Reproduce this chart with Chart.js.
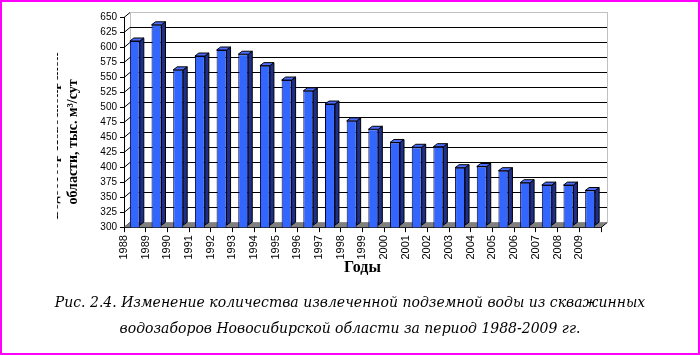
<!DOCTYPE html>
<html>
<head>
<meta charset="utf-8">
<script src="https://cdn.jsdelivr.net/npm/chart.js@4"></script>
<style>
  html, body { margin: 0; padding: 0; background: #fff; }
  #wrap { position: relative; width: 700px; height: 355px; }
  #frame { position: absolute; left: 0; top: 0; width: 700px; height: 355px; box-sizing: border-box; border: 2px solid #ff00ff; pointer-events: none; }
</style>
</head>
<body>
<div id="wrap">
  <canvas id="water_chart" width="700" height="355"></canvas>
  <div id="frame"></div>
</div>
<script>
const years = ['1988', '1989', '1990', '1991', '1992', '1993', '1994', '1995', '1996', '1997', '1998',
  '1999', '2000', '2001', '2002', '2003', '2004', '2005', '2006', '2007', '2008', '2009'];
const water_volume = [610, 637, 562, 585, 595, 588, 569, 545, 527, 505, 477,
  463, 441, 433, 434, 399, 401, 394, 374, 370, 370, 361];
const y_min = 300;
const y_max = 650;
const y_step = 25;

const y_title = ['Водоотбор Новосибирской', 'области, тыс. м³/сут'];
const x_title = 'Годы';
const caption = [
  'Рис. 2.4. Изменение количества извлеченной подземной воды из скважинных',
  'водозаборов Новосибирской области за период 1988-2009 гг.'
];

// fake excel 3d look: back wall, floor, bar sides
const excel3d = {
  id: 'excel3d',
  beforeDatasetsDraw(chart) {
    const ctx = chart.ctx;
    const a = chart.chartArea;
    const y = chart.scales.y;
    const dx = 6, dy = 5;
    ctx.save();
    ctx.lineWidth = 1;
    // back wall
    ctx.strokeStyle = '#c0c0c0';
    ctx.strokeRect(a.left + dx + 0.5, a.top - dy + 0.5, a.right - a.left, a.bottom - a.top);
    // grid lines on the wall
    for (let v = y_min; v <= y_max; v += y_step) {
      const py = Math.round(y.getPixelForValue(v)) + 0.5;
      ctx.strokeStyle = '#000';
      ctx.beginPath();
      ctx.moveTo(a.left, py);
      ctx.lineTo(a.left + dx, py - dy);
      ctx.stroke();
      if (v > y_min && v < y_max) {
        ctx.beginPath();
        ctx.moveTo(a.left + dx, py - dy);
        ctx.lineTo(a.right + dx, py - dy);
        ctx.stroke();
      }
    }
    // floor
    ctx.fillStyle = '#808080';
    ctx.beginPath();
    ctx.moveTo(a.left, a.bottom);
    ctx.lineTo(a.right, a.bottom);
    ctx.lineTo(a.right + dx, a.bottom - dy);
    ctx.lineTo(a.left + dx, a.bottom - dy);
    ctx.closePath();
    ctx.fill();
    ctx.strokeStyle = '#000';
    ctx.beginPath();
    ctx.moveTo(a.right, a.bottom + 0.5);
    ctx.lineTo(a.right + dx, a.bottom - dy + 0.5);
    ctx.stroke();
    ctx.restore();
  },
  afterDatasetsDraw(chart) {
    const ctx = chart.ctx;
    const a = chart.chartArea;
    const d = 4, d2 = 3;
    ctx.save();
    ctx.lineWidth = 1;
    ctx.strokeStyle = '#000';
    chart.getDatasetMeta(0).data.forEach(bar => {
      const xl = bar.x - bar.width / 2;
      const xr = bar.x + bar.width / 2;
      const base = Math.min(bar.base, a.bottom - 2);
      ctx.fillStyle = '#1d2f8a';
      ctx.beginPath();
      ctx.moveTo(xr, bar.y);
      ctx.lineTo(xr + d, bar.y - d2);
      ctx.lineTo(xr + d, base - d2);
      ctx.lineTo(xr, base);
      ctx.closePath();
      ctx.fill();
      ctx.stroke();
      ctx.fillStyle = '#4d6dff';
      ctx.beginPath();
      ctx.moveTo(xl, bar.y);
      ctx.lineTo(xl + d, bar.y - d2);
      ctx.lineTo(xr + d, bar.y - d2);
      ctx.lineTo(xr, bar.y);
      ctx.closePath();
      ctx.fill();
      ctx.stroke();
    });
    ctx.restore();
  },
  afterDraw(chart) {
    // y title, first line is cut off like in the scan
    const ctx = chart.ctx;
    const cy = 142;
    ctx.save();
    ctx.fillStyle = '#000';
    ctx.font = 'bold 14px "Liberation Serif"';
    ctx.textAlign = 'center';
    ctx.textBaseline = 'middle';
    ctx.save();
    ctx.beginPath();
    ctx.rect(57, 0, 100, 355);
    ctx.clip();
    ctx.translate(54, cy - 6);
    ctx.rotate(-Math.PI / 2);
    ctx.fillText(y_title[0], 0, 0);
    ctx.restore();
    ctx.translate(73, cy);
    ctx.rotate(-Math.PI / 2);
    ctx.fillText(y_title[1], 0, 0);
    ctx.restore();
  }
};

function drawChart() {
  let ctx = document.getElementById('water_chart').getContext('2d');
  let water_chart = new Chart(ctx, {
    type: 'bar',
    data: {
      labels: years,
      datasets: [{
        data: water_volume,
        backgroundColor: '#3366ff',
        borderColor: '#000033',
        borderWidth: 1,
        barPercentage: 0.92,
        categoryPercentage: 0.5
      }]
    },
    options: {
      responsive: false,
      animation: false,
      layout: {
        padding: { left: 0, right: 0, top: 17, bottom: 8 }
      },
      scales: {
        y: {
          min: y_min,
          max: y_max,
          afterFit(scale) { scale.width = 124; },
          ticks: {
            stepSize: y_step,
            autoSkip: false,
            color: '#000',
            padding: 3,
            font: { family: 'Liberation Sans', size: 10 }
          },
          grid: { drawOnChartArea: false, color: '#000', tickLength: 4 },
          border: { color: '#000' }
        },
        // empty right axis, only keeps the space on the right
        yr: {
          position: 'right',
          min: y_min,
          max: y_max,
          afterFit(scale) { scale.width = 99; },
          ticks: { display: false },
          grid: { display: false, drawTicks: false },
          border: { display: false }
        },
        x: {
          ticks: {
            color: '#000',
            minRotation: 90,
            maxRotation: 90,
            autoSkip: false,
            labelOffset: -11,
            padding: 3,
            font: { family: 'Liberation Sans', size: 11 }
          },
          grid: { drawOnChartArea: false, offset: true, color: '#000', tickLength: 5 },
          border: { color: '#000' },
          title: {
            display: true,
            text: x_title,
            color: '#000',
            padding: { top: -4, bottom: 0 },
            font: { family: 'Liberation Serif', size: 16, weight: 'bold' }
          }
        }
      },
      plugins: {
        legend: { display: false },
        tooltip: { enabled: false },
        title: {
          display: true,
          position: 'bottom',
          text: caption,
          color: '#000',
          padding: { top: 12, bottom: 4 },
          font: { family: 'DejaVu Serif', size: 14, style: 'italic', weight: 'normal', lineHeight: 1.9 }
        }
      }
    },
    plugins: [excel3d]
  });
}

Promise.all([
  document.fonts.load('italic 14px "DejaVu Serif"'),
  document.fonts.load('bold 14px "Liberation Serif"'),
  document.fonts.load('11px "Liberation Sans"')
]).then(drawChart, drawChart);
</script>
</body>
</html>
